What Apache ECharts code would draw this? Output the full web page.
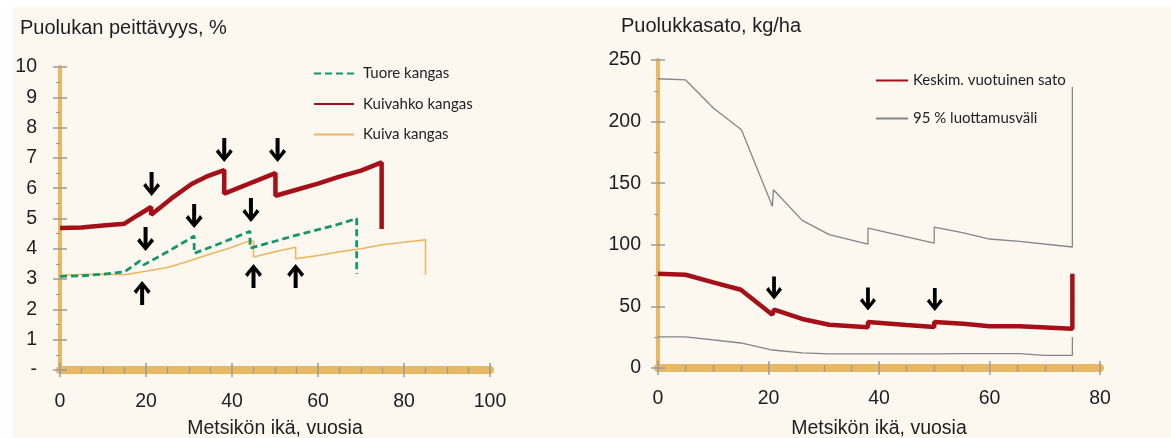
<!DOCTYPE html>
<html>
<head>
<meta charset="utf-8">
<script src="https://cdn.jsdelivr.net/npm/echarts@6/dist/echarts.min.js"></script>
<style>
  html, body { margin:0; padding:0; background:#ffffff; }
  #bg { position:absolute; left:13px; top:7px; width:1158px; height:431px; background:#fdf8ef; }
  #chart { position:absolute; left:0; top:0; width:1171px; height:438px; }
</style>
</head>
<body>
<div id="bg"></div>
<div id="chart"></div>
<script>
// ---------- Left chart: Puolukan peittävyys, % ----------
const leftTitle = 'Puolukan peittävyys, %';
const leftYLabels = ['-', '1', '2', '3', '4', '5', '6', '7', '8', '9', '10'];
const leftXRange = [0, 100];
const tuoreKangas = [[0,3.09],[5,3.11],[10,3.16],[15,3.24],[18.6,3.6],[19.5,3.47],[25,3.9],[31.2,4.42],[31.2,3.85],[38,4.22],[44.2,4.58],[44.2,4.02],[50,4.25],[55,4.45],[60,4.63],[65,4.82],[69,5.0],[69,3.17]];
const kuivahkoKangas = [[0,4.69],[5,4.7],[10,4.77],[15,4.83],[18,5.1],[21.2,5.38],[21.2,5.12],[26,5.67],[30.6,6.14],[34,6.38],[38.2,6.6],[38.2,5.82],[44,6.15],[50.1,6.5],[50.1,5.75],[55,5.95],[60,6.15],[65,6.38],[70,6.58],[74.8,6.85],[74.8,4.65]];
const kuivaKangas = [[0,3.13],[5,3.15],[10,3.16],[15,3.14],[19.2,3.24],[19.2,3.18],[25,3.38],[30,3.6],[35,3.83],[40,4.05],[44.2,4.27],[45,4.25],[45,3.73],[50,3.9],[54.8,4.05],[54.8,3.67],[60,3.78],[65,3.9],[70,4.0],[75,4.13],[80,4.22],[85,4.3],[85,3.14]];
const leftDownArrows = [[21.3,6.14],[38.2,7.26],[50.6,7.26],[31.2,5.08],[44.4,5.28],[19.9,4.32]];
const leftUpArrows = [[19.1,2.54],[45,3.1],[54.8,3.1]];

// ---------- Right chart: Puolukkasato, kg/ha ----------
const rightTitle = 'Puolukkasato, kg/ha';
const rightXRange = [0, 80];
const rightYRange = [0, 250];
const keskimSato = [[0,76.5],[5,75.7],[10,69.5],[15,63.5],[20.7,43.3],[21,47.3],[26.1,39.8],[31,35.1],[38,33],[38,37.3],[45,34.9],[50,33.3],[50,37.3],[55.3,36],[60,33.8],[65.4,33.8],[75,31.9],[75,76.5]];
const luottamusYla = [[0,234.8],[5,233.8],[10,211],[15.1,193.4],[20.7,131.2],[20.9,144.7],[26.1,119.8],[31,108.2],[38,100.6],[38,113.6],[50,101.4],[50,114.4],[55.3,109.6],[60,104.7],[65.4,102.8],[75,98.2],[75,228]];
const luottamusAla = [[0,25.2],[5,25.2],[15,20.3],[20.7,14.6],[20.9,15.7],[26.1,12.2],[31,11.4],[38,11.4],[38,12.4],[45,11.4],[50,11.4],[50,12.4],[55.3,11.6],[65.4,11.6],[70,10.2],[75,10.2],[75,25.2]];
const rightDownArrows = [[21,65],[38,56],[50.1,55.5]];

const xAxisTitle = 'Metsikön ikä, vuosia';

// ---------- styling ----------
const axisOrange = '#e8b865';
const tickGray = '#9a9a9a';
const textColor = '#1e1e1e';
const tickFont = '"Liberation Sans", Arial, sans-serif';
const legendFont = 'Lato, "Open Sans", sans-serif';
const arrowDown = 'path://M6.5,0 L10.5,0 L10.5,16.5 L14.3,11 L17,13.8 L8.5,24 L0,13.8 L2.7,11 L6.5,16.5 Z';

function mainX(grid, range, margin) {
  return {
    gridIndex: grid, type: 'value', min: range[0], max: range[1], interval: 20, position: 'bottom',
    axisLine: { show: true, lineStyle: { color: axisOrange, width: 8 } },
    axisTick: { show: true, length: 7, lineStyle: { color: tickGray, width: 1.5 } },
    minorTick: { show: true, splitNumber: 4, length: 4, lineStyle: { color: tickGray, width: 1.2 } },
    splitLine: { show: false },
    axisLabel: { margin: margin, color: textColor, fontSize: 19.5, fontFamily: tickFont }
  };
}
function innerX(grid, range) {
  return {
    gridIndex: grid, type: 'value', min: range[0], max: range[1], interval: 20, position: 'bottom',
    axisLine: { show: false },
    axisTick: { show: true, inside: true, length: 7, lineStyle: { color: tickGray, width: 1.5 } },
    minorTick: { show: true, splitNumber: 4, length: 3, lineStyle: { color: tickGray, width: 1.2 } },
    splitLine: { show: false }, axisLabel: { show: false }
  };
}
function mainY(grid, min, max, interval, margin, formatter) {
  return {
    gridIndex: grid, type: 'value', min: min, max: max, interval: interval, position: 'left',
    axisLine: { show: true, lineStyle: { color: axisOrange, width: 4 } },
    axisTick: { show: true, length: 7, lineStyle: { color: tickGray, width: 1.5 } },
    minorTick: { show: true, splitNumber: 2, length: 4, lineStyle: { color: tickGray, width: 1.2 } },
    splitLine: { show: false },
    axisLabel: { margin: margin, color: textColor, fontSize: 19.5, fontFamily: tickFont, formatter: formatter }
  };
}
function innerY(grid, min, max, interval) {
  return {
    gridIndex: grid, type: 'value', min: min, max: max, interval: interval, position: 'left',
    axisLine: { show: false },
    axisTick: { show: true, inside: true, length: 7, lineStyle: { color: tickGray, width: 1.5 } },
    minorTick: { show: false },
    splitLine: { show: false }, axisLabel: { show: false }
  };
}

const chart = echarts.init(document.getElementById('chart'), null, { renderer: 'canvas' });

const option = {
  backgroundColor: 'transparent',
  animation: false,
  grid: [
    { left: 60, top: 67, width: 430, height: 303 },
    { left: 658, top: 60, width: 442, height: 308 }
  ],
  xAxis: [
    mainX(0, leftXRange, 22), innerX(0, leftXRange),
    mainX(1, rightXRange, 21), innerX(1, rightXRange)
  ],
  yAxis: [
    mainY(0, 0, 10, 1, 23, v => leftYLabels[Math.round(v)]), innerY(0, 0, 10, 1),
    mainY(1, rightYRange[0], rightYRange[1], 50, 17, v => String(v)), innerY(1, rightYRange[0], rightYRange[1], 50)
  ],
  legend: [
    {
      data: ['Tuore kangas', 'Kuivahko kangas', 'Kuiva kangas'],
      orient: 'vertical', left: 313, top: 66, padding: 0,
      itemWidth: 40, itemHeight: 14, itemGap: 15.5, selectedMode: false,
      itemStyle: { opacity: 0 },
      textStyle: { fontFamily: legendFont, fontSize: 15, color: textColor, padding: [0, 0, 0, 4] }
    },
    {
      data: ['Keskim. vuotuinen sato', '95 % luottamusväli'],
      orient: 'vertical', left: 875, top: 73, padding: 0,
      itemWidth: 32, itemHeight: 14, itemGap: 23, selectedMode: false,
      itemStyle: { opacity: 0 },
      textStyle: { fontFamily: legendFont, fontSize: 15, color: textColor }
    }
  ],
  graphic: [
    { type: 'text', left: 20, top: 18, style: { text: leftTitle, font: '20px "Liberation Sans", Arial, sans-serif', fill: textColor } },
    { type: 'text', left: 621, top: 16, style: { text: rightTitle, font: '20px "Liberation Sans", Arial, sans-serif', fill: textColor } },
    { type: 'text', x: 275, y: 429, style: { text: xAxisTitle, font: '19.5px "Liberation Sans", Arial, sans-serif', fill: textColor, align: 'center', verticalAlign: 'middle' } },
    { type: 'text', x: 879, y: 429, style: { text: xAxisTitle, font: '19.5px "Liberation Sans", Arial, sans-serif', fill: textColor, align: 'center', verticalAlign: 'middle' } }
  ],
  series: [
    { name: 'Kuiva kangas', type: 'line', xAxisIndex: 0, yAxisIndex: 0, data: kuivaKangas, symbol: 'none',
      lineStyle: { color: '#efb45c', width: 1.5 }, itemStyle: { color: '#efb45c' }, z: 3 },
    { name: 'Tuore kangas', type: 'line', xAxisIndex: 0, yAxisIndex: 0, data: tuoreKangas, symbol: 'none',
      lineStyle: { color: '#15966a', width: 2.8, type: [7, 4] }, itemStyle: { color: '#15966a' }, z: 4 },
    { name: 'Kuivahko kangas', type: 'line', xAxisIndex: 0, yAxisIndex: 0, data: kuivahkoKangas, symbol: 'none',
      lineStyle: { color: '#a50f18', width: 4.5 }, itemStyle: { color: '#a50f18' }, z: 5 },
    { name: 'ArrowsDownLeft', type: 'scatter', xAxisIndex: 0, yAxisIndex: 0, data: leftDownArrows,
      symbol: arrowDown, symbolSize: [17, 24], itemStyle: { color: '#000', opacity: 1 }, silent: true, z: 6 },
    { name: 'ArrowsUpLeft', type: 'scatter', xAxisIndex: 0, yAxisIndex: 0, data: leftUpArrows,
      symbol: arrowDown, symbolSize: [17, 24], symbolRotate: 180, itemStyle: { color: '#000', opacity: 1 }, silent: true, z: 6 },

    { name: '95 % luottamusväli', type: 'line', xAxisIndex: 2, yAxisIndex: 2, data: luottamusYla, symbol: 'none',
      lineStyle: { color: '#858585', width: 1.3 }, itemStyle: { color: '#858585' }, z: 3 },
    { name: '95 % luottamusväli', type: 'line', xAxisIndex: 2, yAxisIndex: 2, data: luottamusAla, symbol: 'none',
      lineStyle: { color: '#858585', width: 1.3 }, itemStyle: { color: '#858585' }, z: 3 },
    { name: 'Keskim. vuotuinen sato', type: 'line', xAxisIndex: 2, yAxisIndex: 2, data: keskimSato, symbol: 'none',
      lineStyle: { color: '#a50f18', width: 4.5 }, itemStyle: { color: '#a50f18' }, z: 5 },
    { name: 'ArrowsDownRight', type: 'scatter', xAxisIndex: 2, yAxisIndex: 2, data: rightDownArrows,
      symbol: arrowDown, symbolSize: [16, 23], itemStyle: { color: '#000', opacity: 1 }, silent: true, z: 6 }
  ]
};
chart.setOption(option);
</script>
</body>
</html>
